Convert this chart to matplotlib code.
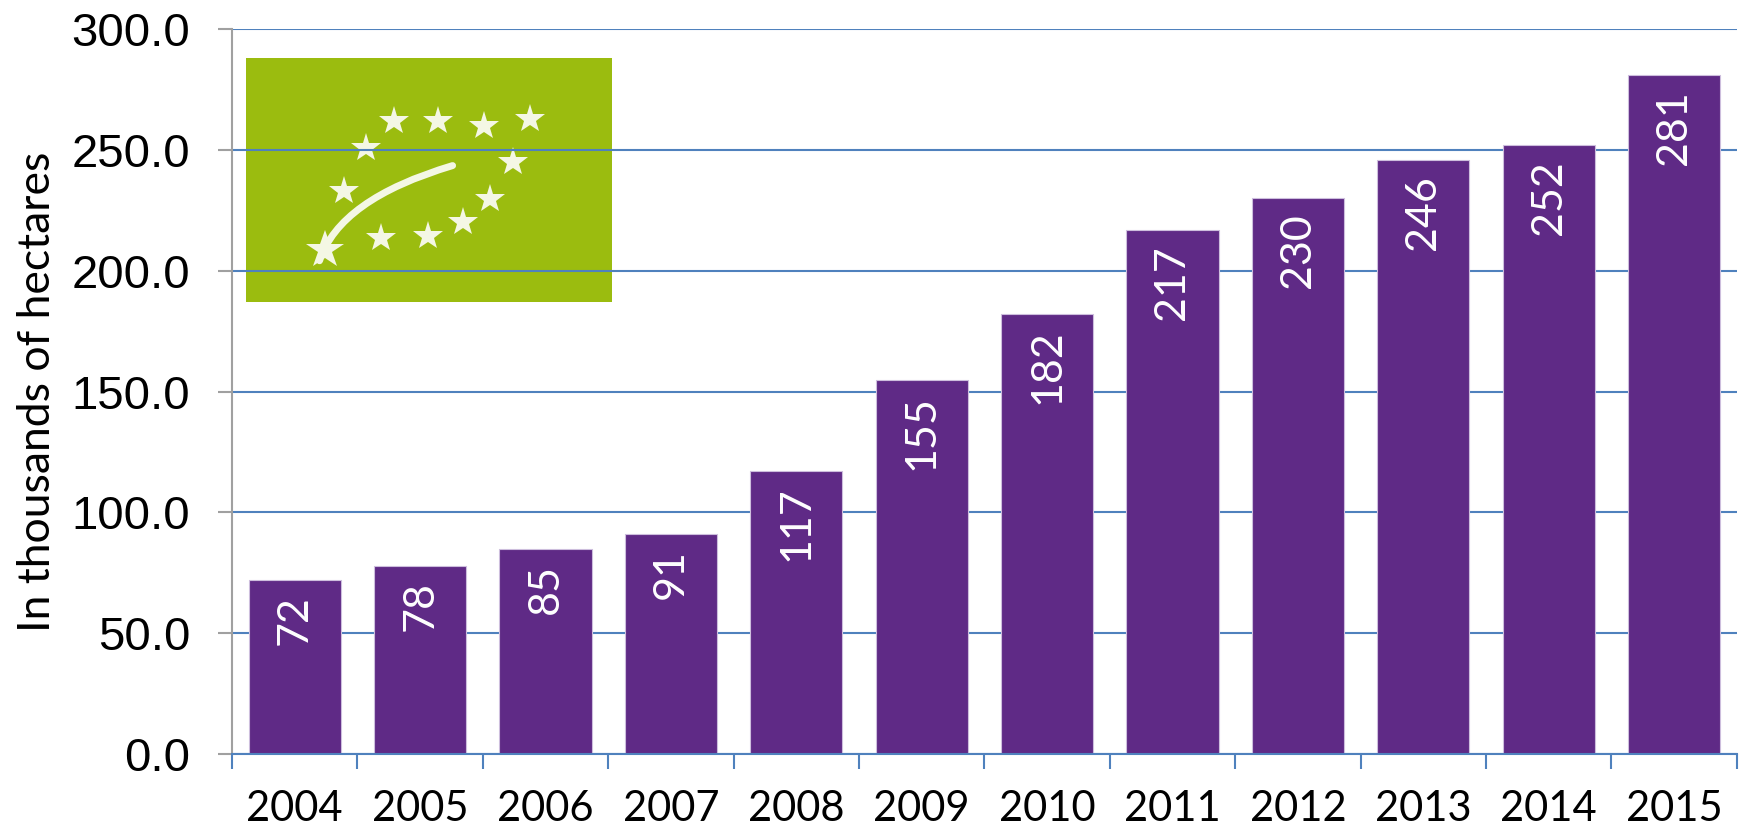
import numpy as np
import matplotlib
matplotlib.use("Agg")
import matplotlib.pyplot as plt
from matplotlib.path import Path
from matplotlib.patches import PathPatch


# -----------------------------
# DATA
# -----------------------------
years = ["2004", "2005", "2006", "2007", "2008", "2009",
         "2010", "2011", "2012", "2013", "2014", "2015"]
hectares = [72, 78, 85, 91, 117, 155, 182, 217, 230, 246, 252, 281]
y_ticks = [0, 50, 100, 150, 200, 250, 300]

bar_color = "#5F2A86"
grid_color = "#4F81BD"


# -----------------------------
# FIGURE
# -----------------------------
fig = plt.figure(figsize=(17.42, 8.35), dpi=100)
ax = fig.add_axes([0.1332, 0.097, 0.8638, 0.868])

x = np.arange(len(years))
ax.bar(x, hectares, width=0.735, color=bar_color, edgecolor="#CDBEDD",
       linewidth=0.8, zorder=2)

for xi, v in zip(x, hectares):
    ax.annotate(str(v), (xi, v), xytext=(0, -11), textcoords="offset points",
                rotation=90, ha="center", va="top", color="white",
                fontsize=31, family="Lato", zorder=3)

ax.set_xlim(-0.5, len(years) - 0.5)
ax.set_ylim(0, 300)

# y axis
ax.set_yticks(y_ticks)
ax.set_yticklabels([f"{t:.1f}" for t in y_ticks], fontsize=34,
                   family="Liberation Sans")
ax.tick_params(axis="y", direction="out", length=10, width=1.5,
               color="#A0A0A0", pad=20)
ax.set_ylabel("In thousands of hectares", fontsize=32, family="Lato",
              labelpad=10)

# x axis: ticks at boundaries, labels at centres
ax.set_xticks(np.arange(-0.5, len(years), 1.0))
ax.set_xticklabels([])
ax.set_xticks(x, minor=True)
ax.set_xticklabels(years, minor=True, fontsize=30, family="Lato")
ax.tick_params(axis="x", which="major", direction="out", length=11,
               width=1.5, color=grid_color)
ax.tick_params(axis="x", which="minor", length=0, pad=26)

ax.grid(axis="y", color=grid_color, linewidth=1.5)
ax.set_axisbelow(True)

for s in ["top", "right"]:
    ax.spines[s].set_visible(False)
ax.spines["left"].set_color("#A0A0A0")
ax.spines["left"].set_linewidth(1.5)
ax.spines["bottom"].set_color(grid_color)
ax.spines["bottom"].set_linewidth(1.5)


# -----------------------------
# ORGANIC LOGO
# -----------------------------
logo = ax.inset_axes([-0.385, 187, 2.915, 101], transform=ax.transData,
                     zorder=0.2)
logo.set_facecolor("#9BBC0F")
logo.set_xlim(0, 1)
logo.set_ylim(0, 1)
logo.set_xticks([])
logo.set_yticks([])
for s in logo.spines.values():
    s.set_visible(False)

star_x = [0.405, 0.523, 0.649, 0.775, 0.326, 0.728, 0.268, 0.665,
          0.592, 0.498, 0.369]
star_y = [0.742, 0.742, 0.724, 0.749, 0.633, 0.574, 0.455, 0.423,
          0.327, 0.270, 0.263]
logo.plot(star_x, star_y, ls="none", marker="*", markersize=22,
          color="#F4F7E4", markeredgewidth=0)
logo.plot([0.215], [0.215], ls="none", marker="*", markersize=29,
          color="#F4F7E4", markeredgewidth=0)

leaf = Path([(0.20, 0.17), (0.254, 0.422), (0.564, 0.560)],
            [Path.MOVETO, Path.CURVE3, Path.CURVE3])
logo.add_patch(PathPatch(leaf, facecolor="none", edgecolor="#F4F7E4",
                         linewidth=5, capstyle="round"))

fig.savefig("out.png", dpi=100)
